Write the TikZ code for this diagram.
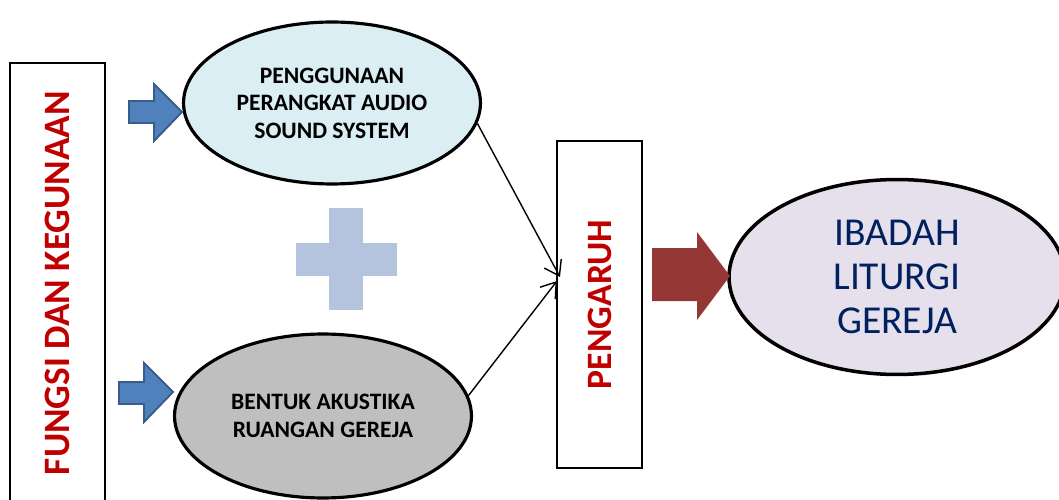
\documentclass[tikz,border=0pt]{standalone}
\usepackage{fontspec}
\setmainfont{Carlito}
\usetikzlibrary{shapes,arrows.meta,positioning}

\definecolor{fungsired}{RGB}{192,0,0}
\definecolor{ibadahblue}{RGB}{0,32,96}
\definecolor{audiofill}{RGB}{218,238,243}
\definecolor{ruangfill}{RGB}{191,191,191}
\definecolor{ibadahfill}{RGB}{229,224,236}
\definecolor{plusblue}{RGB}{180,196,222}
\definecolor{arrowblue}{RGB}{79,129,189}
\definecolor{arrowedge}{RGB}{56,93,138}
\definecolor{arrowred}{RGB}{149,55,53}

\begin{document}
\begin{tikzpicture}[
  x=0.02cm, y=-0.02cm,
  bar/.style={rectangle, draw, line width=0.9pt, rotate=90, text=fungsired, font=\fontsize{21.2}{24}\selectfont\bfseries},
  oval/.style={ellipse, draw, line width=1.8pt, align=center, inner sep=0pt},
  smalltext/.style={font=\fontsize{13.4}{15.6}\selectfont\bfseries},
  blockblue/.style={fill=arrowblue, draw=arrowedge, line width=1.1pt, line join=miter},
  blockred/.style={fill=arrowred},
  arrow/.style={-{Straight Barb[length=8pt,width=11pt]}, line width=0.8pt}
]
\useasboundingbox (0,0) rectangle (1059,500);

\node[bar, minimum width=8.8cm, minimum height=1.9cm] (fungsi) at (57.5,283) {FUNGSI DAN KEGUNAAN};
\node[bar, minimum width=6.54cm, minimum height=1.7cm, font=\fontsize{20.3}{24}\selectfont\bfseries] (pengaruh) at (599.5,304.5) {PENGARUH};

\node[oval, fill=audiofill, smalltext, minimum width=5.94cm, minimum height=3.24cm] (audio) at (332,103)
  {PENGGUNAAN\\PERANGKAT AUDIO\\SOUND SYSTEM};
\node[oval, fill=ruangfill, smalltext, minimum width=5.94cm, minimum height=3.28cm] (ruang) at (323,416)
  {BENTUK AKUSTIKA\\RUANGAN GEREJA};
\node[oval, fill=ibadahfill, line width=2pt, text=ibadahblue, font=\fontsize{22.5}{25.2}\selectfont,
  minimum width=6.72cm, minimum height=3.9cm] (ibadah) at (897,277)
  {IBADAH\\LITURGI\\GEREJA};

% plus sign
\fill[plusblue] (329,208) rectangle (363,310);
\fill[plusblue] (296,243) rectangle (397,276);

% block arrows
\draw[blockblue] (129,101) -- (154,101) -- (154,84) -- (182,112) -- (154,141) -- (154,123) -- (129,123) -- cycle;
\draw[blockblue] (119,382) -- (144,382) -- (144,363) -- (173,392) -- (144,422) -- (144,404) -- (119,404) -- cycle;
\fill[blockred] (652,248) -- (697,248) -- (697,232) -- (730,276) -- (697,320) -- (697,301) -- (652,301) -- cycle;

% connectors
\coordinate (tipA) at (560,277);
\coordinate (tipB) at (557,281);
\draw[arrow] (audio.-8) -- (tipA);
\draw[arrow] (ruang.8) -- (tipB);

\end{tikzpicture}
\end{document}
